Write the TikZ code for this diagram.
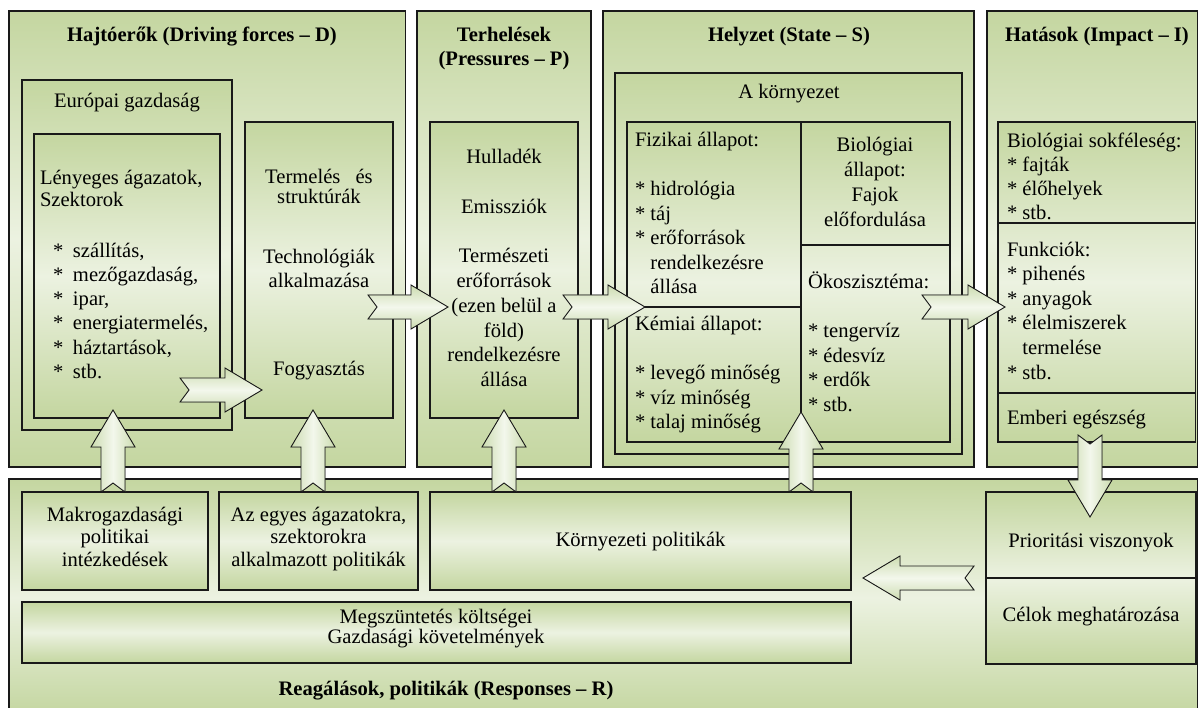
\documentclass[tikz,border=0pt]{standalone}
\usepackage{fontspec}
\setmainfont{Liberation Serif}
\usetikzlibrary{calc,fit}

\definecolor{gDark}{RGB}{196,214,160}
\definecolor{gLight}{RGB}{236,242,225}
\definecolor{aEdge}{RGB}{204,220,176}
\definecolor{aMid}{RGB}{243,247,236}
\definecolor{edge}{RGB}{25,25,25}

% strut that fixes the first baseline 19pt below a node's north edge
\newcommand\tstrut{\rule{0pt}{19pt}}

\tikzset{
  frame/.style={draw=edge, line width=1.1pt, top color=gDark, bottom color=gDark,
                middle color=gLight, inner sep=0pt, outer sep=0pt},
  cellbox/.style={draw=edge, line width=1.1pt, inner sep=0pt, outer sep=0pt},
  txt/.style={inner sep=0pt, outer sep=0pt, font=\fontsize{20.6}{24.6}\selectfont},
  lead/.style={font=\fontsize{20.6}{#1}\selectfont},
  ttl/.style={inner sep=0pt, outer sep=0pt, font=\fontsize{20.6}{23.5}\selectfont\bfseries},
  harrow/.style={draw=edge, line width=0.9pt, line join=miter,
                 top color=aEdge, bottom color=aEdge, middle color=aMid},
  varrow/.style={draw=edge, line width=0.9pt, line join=miter,
                 left color=aEdge, right color=aEdge, middle color=aMid},
}

% notched block arrow: #1 style, #2 tail coordinate, #3 tip coordinate
\newcommand\notcharrow[3]{%
  \filldraw[#1]
    ($(#2)!12pt!90:(#3)$)
    -- ($(#3)!37pt!(#2)!12pt!90:(#3)$)
    -- ($(#3)!37pt!(#2)!22pt!90:(#3)$)
    -- (#3)
    -- ($(#3)!37pt!(#2)!22pt!-90:(#3)$)
    -- ($(#3)!37pt!(#2)!12pt!-90:(#3)$)
    -- ($(#2)!12pt!-90:(#3)$)
    -- ($(#2)!9pt!(#3)$)
    -- cycle;}

\begin{document}
\begin{tikzpicture}[x=1pt,y=-1pt]
\useasboundingbox (0,0) rectangle (1198,708);

% ---------- the five panels ----------
\node[frame, fit={(9,11) (405.5,467)}] (pD) {};
\node[frame, fit={(417,11) (591,467)}] (pP) {};
\node[frame, fit={(603,11) (974,467)}] (pS) {};
\node[frame, fit={(987,11) (1197.5,467)}] (pI) {};
\node[frame, fit={(9,479) (1197.5,716)}] (pR) {};

% ---------- driving forces ----------
\node[frame, fit={(22,80) (232,430)}] (eu) {};
\node[frame, fit={(34,134) (220,418)}] (len) {};
\node[frame, fit={(245,122) (393,418)}] (term) {};

% ---------- pressures ----------
\node[frame, fit={(430,122) (578,418)}] (pbox) {};

% ---------- state ----------
\node[frame, fit={(615,73) (962,454)}] (env) {};
\node[frame, fit={(627,122) (950,442)}] (sgrid) {};
\node[cellbox, fit={(627,122) (801,307)}] (fiz) {};
\node[cellbox, fit={(627,307) (801,442)}] (kem) {};
\node[cellbox, fit={(801,122) (950,245)}] (bio) {};
\node[cellbox, fit={(801,245) (950,442)}] (oko) {};

% ---------- impact ----------
\node[frame, fit={(998,122) (1195.5,442)}] (ibox) {};
\node[cellbox, fit={(998,122) (1195.5,223)}] (biod) {};
\node[cellbox, fit={(998,223) (1195.5,393)}] (fun) {};
\node[cellbox, fit={(998,393) (1195.5,442)}] (emb) {};

% ---------- responses ----------
\node[frame, fit={(22,492) (208,590)}] (makro) {};
\node[frame, fit={(219,492) (418,590)}] (egyes) {};
\node[frame, fit={(430,492) (851,590)}] (korny) {};
\node[frame, fit={(22,602) (851,663)}] (megsz) {};
\node[frame, fit={(986,492) (1196,664)}] (prbox) {};
\node[cellbox, fit={(986,492) (1196,578)}] (prio) {};
\node[cellbox, fit={(986,578) (1196,664)}] (celok) {};

% ---------- texts ----------
\node[ttl, anchor=north] (tD) at (202,23) {\tstrut Hajtóerők (Driving forces – D)};
\node[txt, anchor=north] (tEu) at (127,89) {\tstrut Európai gazdaság};
\node[txt, lead=21.5, anchor=north west, align=left] (tLen) at (40,166)
  {\tstrut Lényeges ágazatok,\\Szektorok};
\node[txt, lead=24.3, anchor=north west, align=left] (tLenL) at (53,238)
  {\tstrut\makebox[20pt][l]{*}szállítás,\\\makebox[20pt][l]{*}mezőgazdaság,\\
   \makebox[20pt][l]{*}ipar,\\\makebox[20pt][l]{*}energiatermelés,\\
   \makebox[20pt][l]{*}háztartások,\\\makebox[20pt][l]{*}stb.};
\node[txt, lead=20, anchor=north, align=center] (tTerm1) at (319,165)
  {\tstrut Termelés\hspace{10pt} és\\struktúrák};
\node[txt, lead=24.5, anchor=north, align=center] (tTerm2) at (319,244)
  {\tstrut Technológiák\\alkalmazása};
\node[txt, anchor=north] (tTerm3) at (319,356) {\tstrut Fogyasztás};

\node[ttl, anchor=north, align=center] (tP) at (504,23)
  {\tstrut Terhelések\\(Pressures – P)};
\node[txt, lead=24.8, anchor=north, align=center] (tPbox) at (504,144.5)
  {\tstrut Hulladék\\[24.8pt]Emissziók\\[24.8pt]Természeti\\erőforrások\\(ezen belül a\\föld)\\rendelkezésre\\állása};

\node[ttl, anchor=north] (tS) at (789,23) {\tstrut Helyzet (State – S)};
\node[txt, anchor=north] (tEnv) at (789,79.5) {\tstrut A környezet};
\node[txt, lead=24.5, anchor=north west, align=left] (tFiz) at (635,128)
  {\tstrut Fizikai állapot:\\[24.5pt]* hidrológia\\* táj\\* erőforrások\\
   \phantom{* }rendelkezésre\\\phantom{* }állása};
\node[txt, lead=24.5, anchor=north west, align=left] (tKem) at (635,311.5)
  {\tstrut Kémiai állapot:\\[24.5pt]* levegő minőség\\* víz minőség\\* talaj minőség};
\node[txt, lead=24.7, anchor=north, align=center] (tBio) at (875,133)
  {\tstrut Biológiai\\állapot:\\Fajok\\előfordulása};
\node[txt, lead=24.5, anchor=north west, align=left] (tOko) at (808,269.5)
  {\tstrut Ökoszisztéma:\\[24.5pt]* tengervíz\\* édesvíz\\* erdők\\* stb.};

\node[ttl, anchor=north] (tI) at (1097,23) {\tstrut Hatások (Impact – I)};
\node[txt, lead=24, anchor=north west, align=left] (tBiod) at (1007,129)
  {\tstrut Biológiai sokféleség:\\* fajták\\* élőhelyek\\* stb.};
\node[txt, lead=24.6, anchor=north west, align=left] (tFun) at (1007,237)
  {\tstrut Funkciók:\\* pihenés\\* anyagok\\* élelmiszerek\\\phantom{* }termelése\\* stb.};
\node[txt, anchor=north west] (tEmb) at (1007,405) {\tstrut Emberi egészség};

\node[txt, lead=22.5, anchor=north, align=center] (tMakro) at (115,502)
  {\tstrut Makrogazdasági\\politikai\\intézkedések};
\node[txt, lead=22.5, anchor=north, align=center] (tEgyes) at (318.5,502)
  {\tstrut Az egyes ágazatokra,\\szektorokra\\alkalmazott politikák};
\node[txt, anchor=north] (tKorny) at (640.5,527) {\tstrut Környezeti politikák};
\node[txt, lead=20.5, anchor=north, align=center] (tMegsz) at (436,604)
  {\tstrut Megszüntetés költségei\\Gazdasági követelmények};
\node[ttl, anchor=north] (tR) at (446,676) {\tstrut Reagálások, politikák (Responses – R)};
\node[txt, anchor=north] (tPrio) at (1091,528) {\tstrut Prioritási viszonyok};
\node[txt, anchor=north] (tCel) at (1091,602) {\tstrut Célok meghatározása};

% ---------- arrow end points ----------
\coordinate (hLt) at ($(len.south east)+(-40,-28)$);
\coordinate (hLh) at ($(term.west |- hLt)+(17,0)$);
\coordinate (hDt) at ($(term.east |- kem.north)+(-25,0)$);
\coordinate (hDh) at ($(pbox.west |- kem.north)+(18,0)$);
\coordinate (hPt) at ($(pbox.east |- kem.north)+(-15,0)$);
\coordinate (hPh) at ($(kem.north west)+(18,0)$);
\coordinate (hSt) at ($(oko.east |- kem.north)+(-28,0)$);
\coordinate (hSh) at ($(fun.west |- kem.north)+(7,0)$);
\coordinate (u1t) at ([xshift=-2pt]makro.north);
\coordinate (u1h) at ($(u1t |- len.south)+(0,-8)$);
\coordinate (u2t) at ([xshift=-5.5pt]egyes.north);
\coordinate (u2h) at ($(u2t |- term.south)+(0,-8)$);
\coordinate (u3t) at ($(korny.north west)+(74,0)$);
\coordinate (u3h) at ($(u3t |- pbox.south)+(0,-8)$);
\coordinate (u4t) at (korny.north -| oko.west);
\coordinate (u4h) at ($(oko.south west)+(0,-30)$);
\coordinate (dIt) at ($(emb.south west)+(92,-7)$);
\coordinate (dIh) at ($(dIt |- prio.north)+(0,25)$);
\coordinate (lRt) at ($(celok.north west)+(-12,0)$);
\coordinate (lRh) at ($(korny.east |- lRt)+(12,0)$);

% ---------- block arrows ----------
\notcharrow{harrow}{hLt}{hLh}
\notcharrow{harrow}{hDt}{hDh}
\notcharrow{harrow}{hPt}{hPh}
\notcharrow{harrow}{hSt}{hSh}
\notcharrow{varrow}{u1t}{u1h}
\notcharrow{varrow}{u2t}{u2h}
\notcharrow{varrow}{u3t}{u3h}
\notcharrow{varrow}{u4t}{u4h}
\notcharrow{varrow}{dIt}{dIh}
\notcharrow{harrow}{lRt}{lRh}
\end{tikzpicture}
\end{document}
